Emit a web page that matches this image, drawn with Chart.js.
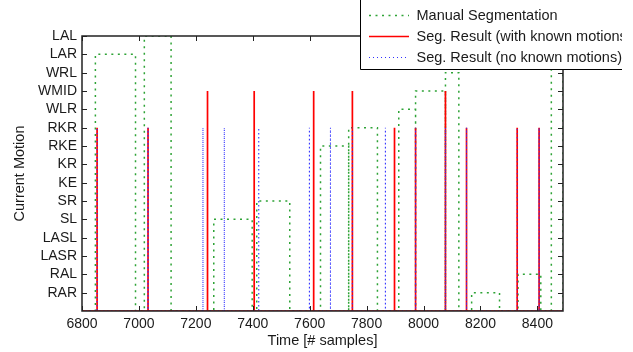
<!DOCTYPE html>
<html>
<head>
<meta charset="utf-8">
<script src="https://cdn.jsdelivr.net/npm/chart.js@4/dist/chart.umd.min.js"></script>
<style>
  html, body { margin: 0; padding: 0; background: #fff; }
  canvas { display: block; }
</style>
</head>
<body>
<canvas id="chart" width="633" height="352"></canvas>
<script>
// y levels, bottom to top (0 = between motions, no label)
const motions = ['', 'RAR', 'RAL', 'LASR', 'LASL', 'SL', 'SR', 'KE', 'KR', 'RKE', 'RKR', 'WLR', 'WMID', 'WRL', 'LAR', 'LAL'];
const timeTicks = [6800, 7000, 7200, 7400, 7600, 7800, 8000, 8200, 8400];
const timeMin = 6800;
const timeMax = 8490;

// manual segmentation, one entry per segment
const manualStart = [6847, 7019, 7263, 7414, 7638, 7737, 7913, 7972, 8077, 8169, 8332, 8449];
const manualEnd   = [6988, 7113, 7398, 7530, 7737, 7838, 7972, 8077, 8124, 8267, 8412, 8490];
const manualLevel = ['LAR', 'LAL', 'SL', 'SR', 'RKE', 'RKR', 'WLR', 'WMID', 'WRL', 'RAR', 'RAL', 'LAL'];

// seg. result with known motions (spikes)
const knownAt    = [6853, 7032, 7241, 7405, 7614, 7750, 7898, 7972, 8077, 8151, 8329, 8406];
const knownLevel = ['RKR', 'RKR', 'WMID', 'WMID', 'WMID', 'WMID', 'RKR', 'RKR', 'WMID', 'RKR', 'RKR', 'RKR'];

// seg. result with no known motions (spikes)
const unknownAt    = [6853, 7032, 7225, 7300, 7421, 7599, 7673, 7750, 7866, 7972, 8077, 8151, 8329, 8406];
const unknownLevel = ['RKR', 'RKR', 'RKR', 'RKR', 'RKR', 'RKR', 'RKR', 'RKR', 'RKR', 'RKR', 'RKR', 'RKR', 'RKR', 'RKR'];

const lvl = name => motions.indexOf(name);

function segmentPoints(starts, ends, levels) {
  const pts = [{x: timeMin, y: 0}];
  for (let i = 0; i < starts.length; i++) {
    const l = lvl(levels[i]);
    pts.push({x: starts[i], y: 0}, {x: starts[i], y: l}, {x: ends[i], y: l}, {x: ends[i], y: 0});
  }
  pts.push({x: timeMax, y: 0});
  return pts;
}

function spikePoints(at, levels) {
  const pts = [{x: timeMin, y: 0}];
  for (let i = 0; i < at.length; i++) {
    pts.push({x: at[i], y: 0}, {x: at[i], y: lvl(levels[i])}, {x: at[i], y: 0});
  }
  pts.push({x: timeMax, y: 0});
  return pts;
}

const FONT = '"Liberation Sans", Arial, Helvetica, sans-serif';
const INK = '#1a1a1a';

// box, inward ticks and the top-right legend
const framePlugin = {
  id: 'frame',
  afterDatasetsDraw(chart) {
    const {ctx, chartArea: a, scales: {x, y}} = chart;
    ctx.save();
    ctx.strokeStyle = '#222';
    ctx.lineWidth = 1;
    ctx.beginPath();
    for (const v of timeTicks) {
      const px = Math.round(x.getPixelForValue(v)) + 0.5;
      ctx.moveTo(px, a.bottom); ctx.lineTo(px, a.bottom - 5);
      ctx.moveTo(px, a.top); ctx.lineTo(px, a.top + 5);
    }
    for (let v = 1; v < motions.length; v++) {
      const py = Math.round(y.getPixelForValue(v)) + 0.5;
      ctx.moveTo(a.left, py); ctx.lineTo(a.left + 5, py);
      ctx.moveTo(a.right, py); ctx.lineTo(a.right - 5, py);
    }
    ctx.stroke();
    ctx.lineWidth = 1.5;
    ctx.strokeRect(a.left, a.top, a.right - a.left, a.bottom - a.top);
    ctx.restore();
  },
  afterDraw(chart) {
    const ctx = chart.ctx;
    ctx.save();
    ctx.beginPath();
    ctx.rect(0, 0, 622, 352);
    ctx.clip();
    ctx.fillStyle = '#fff';
    ctx.fillRect(360.5, -2, 300, 71.5);
    ctx.strokeStyle = '#000';
    ctx.lineWidth = 1;
    ctx.beginPath();
    ctx.moveTo(360.5, -2); ctx.lineTo(360.5, 69.5); ctx.lineTo(640, 69.5);
    ctx.stroke();
    const rows = [15, 36, 57];
    chart.data.datasets.forEach((ds, i) => {
      ctx.strokeStyle = ds.borderColor;
      ctx.lineWidth = ds.borderWidth;
      ctx.setLineDash(ds.borderDash || []);
      ctx.beginPath();
      ctx.moveTo(369, rows[i] + 0.5); ctx.lineTo(409, rows[i] + 0.5);
      ctx.stroke();
      ctx.setLineDash([]);
      ctx.fillStyle = INK;
      ctx.font = '14.5px ' + FONT;
      ctx.textBaseline = 'middle';
      ctx.textAlign = 'left';
      ctx.fillText(ds.label, 416.5, rows[i] + 0.5);
    });
    ctx.restore();
  }
};

new Chart(document.getElementById('chart'), {
  type: 'scatter',
  data: {
    datasets: [
      {
        label: 'Manual Segmentation',
        data: segmentPoints(manualStart, manualEnd, manualLevel),
        borderColor: '#2ea336',
        borderWidth: 1.5,
        borderDash: [2, 4.5],
        order: 3,
      },
      {
        label: 'Seg. Result (with known motions)',
        data: spikePoints(knownAt, knownLevel),
        borderColor: '#ff0000',
        borderWidth: 1.7,
        order: 2,
      },
      {
        label: 'Seg. Result (no known motions)',
        data: spikePoints(unknownAt, unknownLevel),
        borderColor: '#3030ff',
        borderWidth: 1.1,
        borderDash: [1, 3],
        order: 1,
      },
    ]
  },
  options: {
    responsive: false,
    animation: false,
    devicePixelRatio: 1,
    events: [],
    showLine: true,
    elements: {
      point: { radius: 0 },
      line: { tension: 0, borderCapStyle: 'butt' },
    },
    layout: { padding: { top: 36, right: 70, left: 0, bottom: 0 } },
    plugins: {
      legend: { display: false },
      tooltip: { enabled: false },
    },
    scales: {
      x: {
        type: 'linear',
        min: timeMin,
        max: timeMax,
        grid: { display: false, drawTicks: false },
        border: { display: false },
        afterBuildTicks: scale => { scale.ticks = timeTicks.map(v => ({value: v})); },
        afterFit: scale => { scale.height = 41; },
        ticks: {
          padding: 5,
          color: INK,
          autoSkip: false,
          font: { family: FONT, size: 14 },
          maxRotation: 0,
          callback: v => String(v),
        },
        title: {
          display: true,
          text: 'Time [# samples]',
          color: INK,
          font: { family: FONT, size: 14.5 },
          padding: { top: 0, bottom: 2 },
        },
      },
      y: {
        type: 'linear',
        min: 0,
        max: motions.length - 1,
        grid: { display: false, drawTicks: false },
        border: { display: false },
        afterBuildTicks: scale => { scale.ticks = motions.map((_, i) => ({value: i})); },
        afterFit: scale => { scale.width = 82; },
        ticks: {
          padding: 5,
          color: INK,
          autoSkip: false,
          font: { family: FONT, size: 14 },
          callback: v => motions[v],
        },
        title: {
          display: true,
          text: 'Current Motion',
          color: INK,
          font: { family: FONT, size: 14.5 },
          padding: { top: 11, bottom: 0 },
        },
      },
    },
  },
  plugins: [framePlugin],
});
</script>
</body>
</html>
